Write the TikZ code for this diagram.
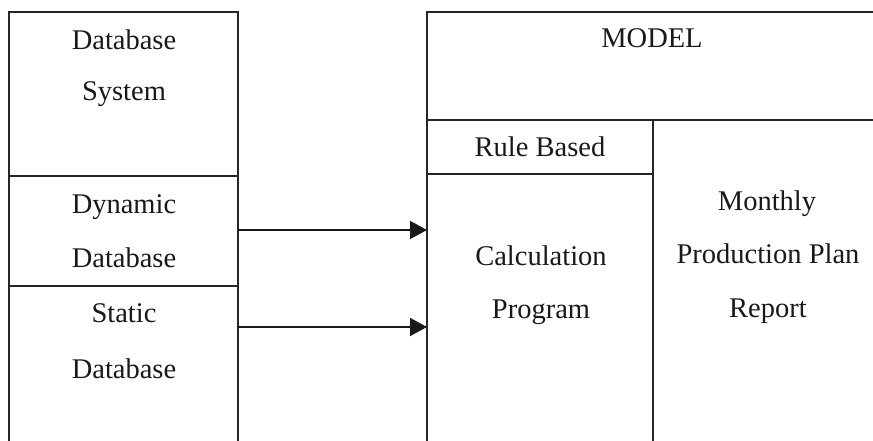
\documentclass[tikz,border=0pt]{standalone}
\usepackage{fontspec}
\setmainfont{Liberation Serif}
\usetikzlibrary{arrows.meta}
\begin{document}
\begin{tikzpicture}[x=1pt,y=-1pt,
  frame/.style={line width=1.4pt,draw=black!85},
  cell/.style={draw=none,inner sep=0pt,anchor=north west},
  lbl/.style={anchor=base,inner sep=0pt,font=\fontsize{28.5}{32}\selectfont,text=black!90},
  link/.style={line width=1.7pt,draw=black!90,-{Triangle[length=17pt,width=18pt]}}]
\useasboundingbox (0,0) rectangle (873,441);
% cells (invisible, for naming)
\node[cell,minimum width=229pt,minimum height=110pt] (dyn) at (9,176) {};
\node[cell,minimum width=229pt,minimum height=155pt] (stat) at (9,286) {};
\node[cell,minimum width=226pt,minimum height=267pt] (calc) at (427,174) {};
% left frame
\draw[frame] (9,441) -- (9,12) -- (238,12) -- (238,441);
\draw[frame] (9,176) -- (238,176);
\draw[frame] (9,286) -- (238,286);
% right frame
\draw[frame] (427,441) -- (427,12) -- (873,12);
\draw[frame] (427,120) -- (873,120);
\draw[frame] (653,120) -- (653,441);
\draw[frame] (427,174) -- (653,174);
% texts
\node[lbl] (t1) at (124,50) {Database};
\node[lbl] (t2) at (124,101) {System};
\node[lbl] (t3) at (124,213) {Dynamic};
\node[lbl] (t4) at (124,267) {Database};
\node[lbl] (t5) at (124,322) {Static};
\node[lbl] (t6) at (124,378) {Database};
\node[lbl] (m) at (652,48) {MODEL};
\node[lbl] (rb) at (540,157) {Rule Based};
\node[lbl] (c1) at (541,265) {Calculation};
\node[lbl] (c2) at (541,318) {Program};
\node[lbl] (r1) at (767,210) {Monthly};
\node[lbl] (r2) at (768,263) {Production Plan};
\node[lbl] (r3) at (768,317) {Report};
% arrows
\coordinate (a1) at (238,230);
\coordinate (a2) at (238,327);
\draw[link] (a1) -- (calc.west |- a1);
\draw[link] (a2) -- (calc.west |- a2);
\end{tikzpicture}
\end{document}
